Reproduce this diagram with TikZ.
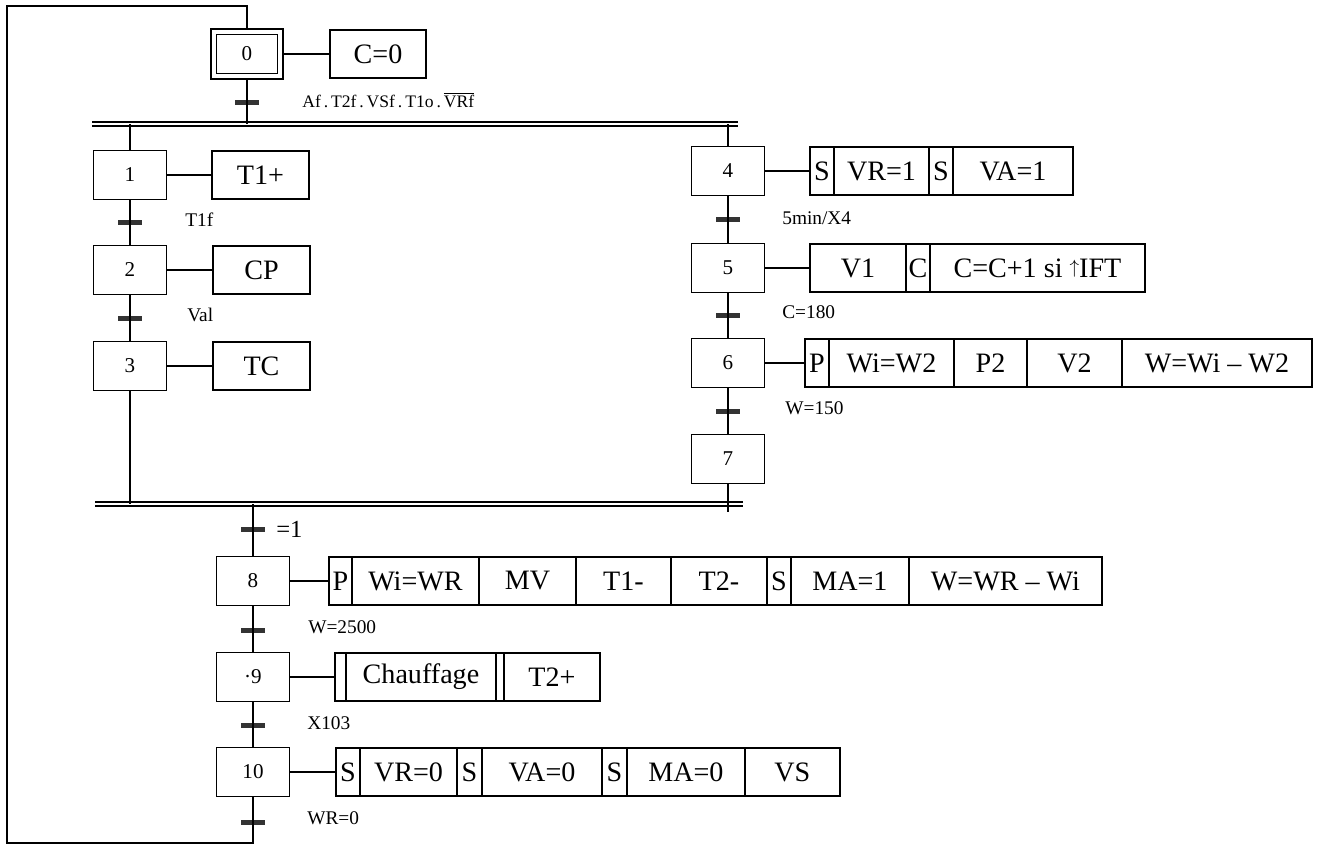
\documentclass[tikz,border=0pt]{standalone}
\usepackage{fontspec}
\setmainfont{Liberation Serif}
\usetikzlibrary{positioning}

\begin{document}
\begin{tikzpicture}[
    x=0.02cm, y=-0.02cm,
    % Define styles for the elements
    etape box/.style={
        rectangle,
        draw,
        line width=0.9pt,
        minimum width=1.46cm,
        minimum height=0.98cm,
        inner sep=0pt,
        font=\fontsize{12}{14}\selectfont
    },
    init box/.style={
        etape box,
        double,                 % initial step: double frame
        double distance=2pt,
        outer sep=1.9pt,
        minimum width=1.33cm,
        minimum height=0.89cm
    },
    action cell/.style={
        rectangle,
        draw,
        line width=0.9pt,
        outer sep=0pt,
        inner sep=0pt,
        minimum width=#1,       % width of the cell
        minimum height=0.96cm,
        font=\fontsize{16}{19}\selectfont
    },
    trans bar/.style={
        rectangle,
        fill=black!80,
        minimum width=0.48cm,
        minimum height=0.1cm,
        inner sep=0pt
    },
    trans label/.style={
        anchor=west,
        inner sep=0pt,
        font=\fontsize{11}{13}\selectfont
    },
    link line/.style={
        line width=0.8pt
    },
    sync line/.style={
        double,
        line width=0.7pt,
        double distance=1.6pt
    }
]
    \useasboundingbox (0,0) rectangle (1320,845);

    % --- Initial step ---
    \node[init box] (step0) at (247,54) {0};
    \node[action cell=1.92cm, anchor=west] (act0) at (330,54) {C=0};
    \node[trans bar] (tr0) at (247,102) {};
    \node[trans label, font=\fontsize{10}{12}\selectfont] (cond0) at (302,100)
        {Af\,.\,T2f\,.\,VSf\,.\,T1o\,.\,$\overline{\mbox{VRf}}$};

    % --- Left branch: steps 1 to 3 ---
    \node[etape box] (step1) at (130,175) {1};
    \node[action cell=1.94cm, anchor=west] (act1) at (212,175) {T1+};
    \node[trans bar] (tr1) at (130,222) {};
    \node[trans label] (cond1) at (185,220) {T1f};

    \node[etape box] (step2) at (130,270) {2};
    \node[action cell=1.94cm, anchor=west] (act2) at (213,270) {CP};
    \node[trans bar] (tr2) at (130,318) {};
    \node[trans label] (cond2) at (187,315) {Val};

    \node[etape box] (step3) at (130,366) {3};
    \node[action cell=1.94cm, anchor=west] (act3) at (213,366) {TC};

    % --- Right branch: steps 4 to 7 ---
    \node[etape box] (step4) at (728,171) {4};
    \node[action cell=0.48cm, anchor=west] (act4a) at (810,171) {S};
    \node[action cell=1.90cm, right=0pt of act4a] (act4b) {VR=1};
    \node[action cell=0.48cm, right=0pt of act4b] (act4c) {S};
    \node[action cell=2.40cm, right=0pt of act4c] (act4d) {VA=1};
    \node[trans bar] (tr4) at (728,219) {};
    \node[trans label] (cond4) at (782,218) {5min/X4};

    \node[etape box] (step5) at (728,268) {5};
    \node[action cell=1.92cm, anchor=west] (act5a) at (810,268) {V1};
    \node[action cell=0.48cm, right=0pt of act5a] (act5b) {C};
    \node[action cell=4.30cm, right=0pt of act5b] (act5c)
        {C=C+1 si \raisebox{0.3ex}{\fontsize{11}{11}\selectfont$\uparrow$}IFT};
    \node[trans bar] (tr5) at (728,315) {};
    \node[trans label] (cond5) at (782,312) {C=180};

    \node[etape box] (step6) at (728,363) {6};
    \node[action cell=0.48cm, anchor=west] (act6a) at (805,363) {P};
    \node[action cell=2.50cm, right=0pt of act6a] (act6b) {Wi=W2};
    \node[action cell=1.46cm, right=0pt of act6b] (act6c) {P2};
    \node[action cell=1.90cm, right=0pt of act6c] (act6d) {V2};
    \node[action cell=3.80cm, right=0pt of act6d] (act6e) {W=Wi -- W2};
    \node[trans bar] (tr6) at (728,411) {};
    \node[trans label] (cond6) at (785,408) {W=150};

    \node[etape box] (step7) at (728,459) {7};

    % --- After the convergence: steps 8 to 10 ---
    \node[trans bar] (tr7) at (253,529) {};
    \node[trans label, font=\fontsize{14}{16}\selectfont] (cond7) at (276,529) {=1};

    \node[etape box] (step8) at (253,581) {8};
    \node[action cell=0.46cm, anchor=west] (act8a) at (329,581) {P};
    \node[action cell=2.54cm, right=0pt of act8a] (act8b) {Wi=WR};
    \node[action cell=1.94cm, right=0pt of act8b] (act8c) {MV};
    \node[action cell=1.90cm, right=0pt of act8c] (act8d) {T1-};
    \node[action cell=1.92cm, right=0pt of act8d] (act8e) {T2-};
    \node[action cell=0.48cm, right=0pt of act8e] (act8f) {S};
    \node[action cell=2.36cm, right=0pt of act8f] (act8g) {MA=1};
    \node[action cell=3.86cm, right=0pt of act8g] (act8h) {W=WR -- Wi};
    \node[trans bar] (tr8) at (253,630) {};
    \node[trans label] (cond8) at (308,627) {W=2500};

    \node[etape box] (step9) at (253,677) {\textperiodcentered9};
    \node[action cell=0.22cm, anchor=west] (act9a) at (335,677) {};
    \node[action cell=3.00cm, right=0pt of act9a] (act9b) {Chauffage};
    \node[action cell=0.16cm, right=0pt of act9b] (act9c) {};
    \node[action cell=1.92cm, right=0pt of act9c] (act9d) {T2+};
    \node[trans bar] (tr9) at (253,725) {};
    \node[trans label] (cond9) at (307,723) {X103};

    \node[etape box] (step10) at (253,772) {10};
    \node[action cell=0.48cm, anchor=west] (act10a) at (336,772) {S};
    \node[action cell=1.94cm, right=0pt of act10a] (act10b) {VR=0};
    \node[action cell=0.50cm, right=0pt of act10b] (act10c) {S};
    \node[action cell=2.40cm, right=0pt of act10c] (act10d) {VA=0};
    \node[action cell=0.50cm, right=0pt of act10d] (act10e) {S};
    \node[action cell=2.36cm, right=0pt of act10e] (act10f) {MA=0};
    \node[action cell=1.90cm, right=0pt of act10f] (act10g) {VS};
    \node[trans bar] (tr10) at (253,822) {};
    \node[trans label] (cond10) at (307,818) {WR=0};

    % --- Junction points ---
    \coordinate (divL) at (92,124);
    \coordinate (divR) at (738,124);
    \coordinate (div0) at (247,124);
    \coordinate (div1) at (130,124);
    \coordinate (div4) at (728,124);
    \coordinate (convL) at (95,504);
    \coordinate (convR) at (743,504);
    \coordinate (conv3) at (130,504);
    \coordinate (conv7) at (728,512);
    \coordinate (conv8) at (253,504);
    \coordinate (loopA) at (253,843);
    \coordinate (loopB) at (7,843);
    \coordinate (loopC) at (7,6);
    \coordinate (loopD) at (247,6);

    % --- Simultaneous divergence / convergence ---
    \draw[sync line] (divL) -- (divR);
    \draw[sync line] (convL) -- (convR);

    % --- Connections ---
    \draw[link line] (step0) -- (act0);
    \draw[link line] (step1) -- (act1);
    \draw[link line] (step2) -- (act2);
    \draw[link line] (step3) -- (act3);
    \draw[link line] (step4) -- (act4a);
    \draw[link line] (step5) -- (act5a);
    \draw[link line] (step6) -- (act6a);
    \draw[link line] (step8) -- (act8a);
    \draw[link line] (step9) -- (act9a);
    \draw[link line] (step10) -- (act10a);

    \draw[link line] (step0) -- (div0);
    \draw[link line] (div1) -- (step1);
    \draw[link line] (step1) -- (step2);
    \draw[link line] (step2) -- (step3);
    \draw[link line] (step3) -- (conv3);
    \draw[link line] (div4) -- (step4);
    \draw[link line] (step4) -- (step5);
    \draw[link line] (step5) -- (step6);
    \draw[link line] (step6) -- (step7);
    \draw[link line] (step7) -- (conv7);
    \draw[link line] (conv8) -- (step8);
    \draw[link line] (step8) -- (step9);
    \draw[link line] (step9) -- (step10);

    % Loop back to the initial step
    \draw[link line] (step10) -- (loopA) -- (loopB) -- (loopC) -- (loopD) -- (step0);

\end{tikzpicture}
\end{document}
